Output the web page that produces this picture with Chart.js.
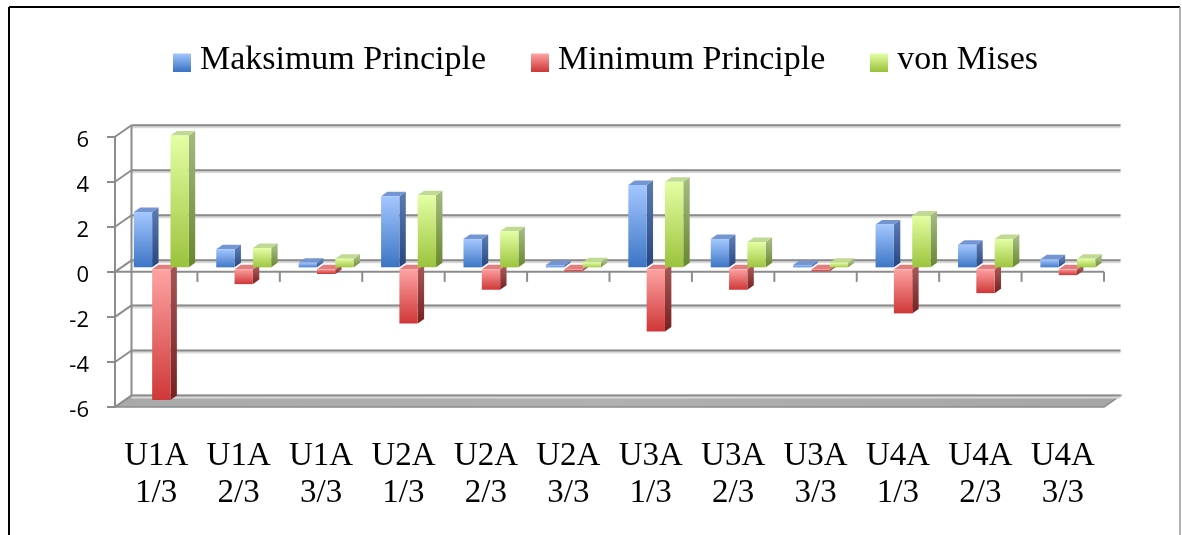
<!DOCTYPE html>
<html>
<head>
<meta charset="utf-8">
<script src="https://cdn.jsdelivr.net/npm/chart.js@4/dist/chart.umd.min.js"></script>
<style>
  html, body { margin: 0; padding: 0; background: #fff; }
  canvas { display: block; }
</style>
</head>
<body>
<canvas id="chart" width="1182" height="535"></canvas>
<script>
// Specimen groups and loading stages along the category axis
const unitNames  = ['U1A', 'U1A', 'U1A', 'U2A', 'U2A', 'U2A', 'U3A', 'U3A', 'U3A', 'U4A', 'U4A', 'U4A'];
const stageNames = ['1/3', '2/3', '3/3', '1/3', '2/3', '3/3', '1/3', '2/3', '3/3', '1/3', '2/3', '3/3'];

// Stress results per case
const maxPrinciple = [2.5, 0.85, 0.25, 3.2, 1.3, 0.15, 3.7, 1.3, 0.15, 1.95, 1.05, 0.4];
const minPrinciple = [-5.85, -0.7, -0.25, -2.45, -0.95, -0.13, -2.8, -0.95, -0.13, -2.0, -1.1, -0.3];
const vonMises     = [5.9, 0.9, 0.43, 3.25, 1.65, 0.27, 3.85, 1.17, 0.25, 2.35, 1.3, 0.43];

const seriesNames = ['Maksimum Principle', 'Minimum Principle', 'von Mises'];
const yMin = -6, yMax = 6, yStep = 2;

// Oblique projection of the wall / floor and of the bars
const WALL_DX = 16.5, WALL_DY = -11.5;
const BAR_SHIFT_X = 5.1, BAR_SHIFT_Y = -3.5;
const BAR_DX = 6.4, BAR_DY = -4.5;

const palettes = [
  { front: ['#a4c7ff', '#3a73c3'], side: ['#5878b0', '#25467f'], top: '#7395d2' },
  { front: ['#ffa4a4', '#cf3737'], side: ['#a45454', '#782020'], top: '#e47d7d' },
  { front: ['#e4ffa4', '#9ac23b'], side: ['#a2b87e', '#68862e'], top: '#c0da94' }
];

const labels = unitNames.map((u, i) => [u, stageNames[i]]);

function frontFill(idx) {
  return (c) => {
    const pal = palettes[idx].front;
    const ys = c.chart.scales && c.chart.scales.y;
    if (!ys || c.type !== 'data' || typeof c.raw !== 'number') return pal[1];
    const a = ys.getPixelForValue(Math.max(c.raw, 0));
    const b = ys.getPixelForValue(Math.min(c.raw, 0));
    const g = c.chart.ctx.createLinearGradient(0, a, 0, Math.max(b, a + 1));
    g.addColorStop(0, pal[0]);
    g.addColorStop(1, pal[1]);
    return g;
  };
}

function makeSwatch(pal) {
  const c = document.createElement('canvas');
  c.width = 18; c.height = 23;
  const g = c.getContext('2d');
  const gr = g.createLinearGradient(0, 5, 0, 23);
  gr.addColorStop(0, pal.front[0]);
  gr.addColorStop(1, pal.front[1]);
  g.fillStyle = gr;
  g.fillRect(0, 5, 18, 18);
  return c;
}
const swatches = palettes.map(makeSwatch);

function line(ctx, x1, y1, x2, y2) {
  ctx.beginPath(); ctx.moveTo(x1, y1); ctx.lineTo(x2, y2); ctx.stroke();
}

const scene3d = {
  id: 'scene3d',
  beforeDraw(chart) {
    const ctx = chart.ctx;
    const { left, right } = chart.chartArea;
    const ys = chart.scales.y, xs = chart.scales.x;
    ctx.save();
    ctx.fillStyle = '#fff';
    ctx.fillRect(0, 0, chart.width, chart.height);

    // outer frame
    ctx.strokeStyle = '#000'; ctx.lineWidth = 2;
    line(ctx, 9, 7, 1180, 7);
    line(ctx, 9, 7, 9, 535);
    ctx.strokeStyle = '#9a9a9a'; ctx.lineWidth = 1.5;
    line(ctx, 1180, 7, 1180, 535);

    // floor at the bottom of the value range
    const yf = ys.getPixelForValue(yMin);
    ctx.beginPath();
    ctx.moveTo(left, yf); ctx.lineTo(right, yf);
    ctx.lineTo(right + WALL_DX, yf + WALL_DY); ctx.lineTo(left + WALL_DX, yf + WALL_DY);
    ctx.closePath();
    const fg = ctx.createLinearGradient(left, 0, right, 0);
    fg.addColorStop(0, '#a9a9a9'); fg.addColorStop(0.5, '#b0b0b0'); fg.addColorStop(1, '#a6a6a6');
    ctx.fillStyle = fg; ctx.fill();
    ctx.strokeStyle = '#8a8a8a'; ctx.lineWidth = 1.5; ctx.stroke();

    // back wall gridlines with their side-wall connectors
    for (let v = yMin; v <= yMax; v += yStep) {
      const y = ys.getPixelForValue(v);
      ctx.strokeStyle = '#dadada'; ctx.lineWidth = 4;
      line(ctx, left + WALL_DX, y + WALL_DY + 1, right + WALL_DX, y + WALL_DY + 1);
      ctx.strokeStyle = '#8c8c8c'; ctx.lineWidth = 2;
      line(ctx, left + WALL_DX, y + WALL_DY, right + WALL_DX, y + WALL_DY);
      line(ctx, left, y, left + WALL_DX, y + WALL_DY);
    }
    ctx.strokeStyle = '#8c8c8c'; ctx.lineWidth = 2;
    line(ctx, left + WALL_DX, ys.getPixelForValue(yMax) + WALL_DY, left + WALL_DX, yf + WALL_DY);

    // category axis at zero with boundary ticks
    const y0 = ys.getPixelForValue(0);
    line(ctx, left, y0, right, y0);
    const cw = (right - left) / labels.length;
    labels.forEach((_, i) => {
      const xb = xs.getPixelForValue(i) + cw / 2;
      line(ctx, xb, y0, xb, y0 + 10);
    });
    ctx.restore();
  },
  beforeDatasetsDraw(chart) {
    const ctx = chart.ctx;
    ctx.save();
    ctx.translate(BAR_SHIFT_X, BAR_SHIFT_Y);
    chart.data.datasets.forEach((ds, di) => {
      const pal = palettes[di];
      chart.getDatasetMeta(di).data.forEach((el) => {
        const { x, y, base, width } = el.getProps(['x', 'y', 'base', 'width'], true);
        const l = x - width / 2, r = x + width / 2;
        const top = Math.min(y, base), bot = Math.max(y, base);
        // right side face
        ctx.beginPath();
        ctx.moveTo(r, top); ctx.lineTo(r + BAR_DX, top + BAR_DY);
        ctx.lineTo(r + BAR_DX, bot + BAR_DY); ctx.lineTo(r, bot);
        ctx.closePath();
        const sg = ctx.createLinearGradient(0, top, 0, Math.max(bot, top + 1));
        sg.addColorStop(0, pal.side[0]); sg.addColorStop(1, pal.side[1]);
        ctx.fillStyle = sg; ctx.fill();
        // top face
        ctx.beginPath();
        ctx.moveTo(l, top); ctx.lineTo(l + BAR_DX, top + BAR_DY);
        ctx.lineTo(r + BAR_DX, top + BAR_DY); ctx.lineTo(r, top);
        ctx.closePath();
        ctx.fillStyle = pal.top; ctx.fill();
      });
    });
  },
  afterDatasetsDraw(chart) {
    chart.ctx.restore();
  }
};

function build() {
  new Chart(document.getElementById('chart'), {
    type: 'bar',
    data: {
      labels,
      datasets: [
        { label: seriesNames[0], data: maxPrinciple, backgroundColor: frontFill(0) },
        { label: seriesNames[1], data: minPrinciple, backgroundColor: frontFill(1) },
        { label: seriesNames[2], data: vonMises, backgroundColor: frontFill(2) }
      ]
    },
    options: {
      responsive: false,
      animation: false,
      devicePixelRatio: 1,
      events: [],
      layout: { padding: { top: -10, left: 0, right: 78, bottom: 0 } },
      datasets: { bar: { categoryPercentage: 0.667, barPercentage: 1, borderWidth: 0, clip: false } },
      scales: {
        x: {
          grid: { display: false },
          border: { display: false },
          ticks: {
            color: '#000', autoSkip: false, maxRotation: 0, padding: 22.5,
            font: { family: "'Liberation Serif', serif", size: 33, lineHeight: 1.133 }
          },
          afterFit: (s) => { s.height = 128; }
        },
        y: {
          min: yMin, max: yMax,
          ticks: {
            stepSize: yStep, color: '#000', padding: 18, labelOffset: 4,
            font: { family: "'Open Sans', sans-serif", size: 22 }
          },
          grid: { display: true, drawOnChartArea: false, drawTicks: true, tickLength: 8, color: '#8c8c8c', lineWidth: 2 },
          border: { display: true, color: '#8c8c8c', width: 2 },
          afterFit: (s) => { s.width = 115; }
        }
      },
      plugins: {
        legend: {
          position: 'top', fullSize: false,
          labels: {
            usePointStyle: true, boxWidth: 2, boxHeight: 18, padding: 53, color: '#000',
            font: { family: "'Liberation Serif', serif", size: 34 },
            generateLabels: (chart) => chart.data.datasets.map((ds, i) => ({
              text: ds.label, pointStyle: swatches[i], fillStyle: 'rgba(0,0,0,0)',
              strokeStyle: 'rgba(0,0,0,0)', lineWidth: 0, hidden: false, datasetIndex: i, fontColor: '#000'
            }))
          }
        },
        subtitle: {
          display: true, text: '', position: 'top', weight: 500, fullSize: false,
          font: { size: 10, lineHeight: 1 }, padding: { top: 39.7, bottom: 0 }
        },
        tooltip: { enabled: false }
      }
    },
    plugins: [scene3d]
  });
}

Promise.all([
  document.fonts.load('34px "Liberation Serif"'),
  document.fonts.load('22px "Open Sans"')
]).catch(() => {}).then(build);
</script>
</body>
</html>
